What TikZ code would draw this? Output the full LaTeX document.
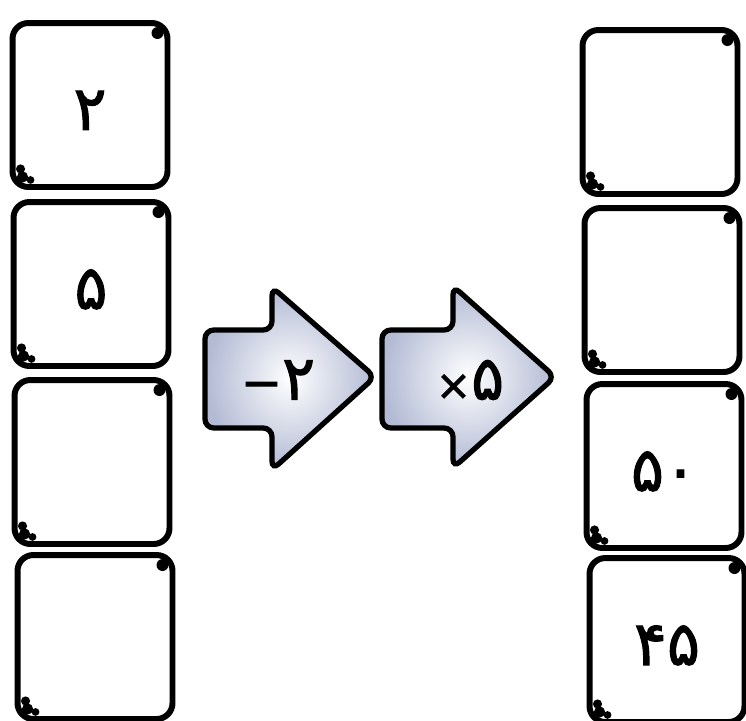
\documentclass[tikz,border=0pt]{standalone}
\usepackage{fontspec}
\usepackage{tikz}
\newfontfamily\farsifont{DejaVu Sans}[FakeBold=1.6]
\definecolor{arrowblue}{RGB}{178,186,212}

\begin{document}
\begin{tikzpicture}[x=0.02cm,y=-0.02cm,
    cell/.style={draw,line width=3.4pt,rounded corners=9pt,minimum width=3.1cm,minimum height=3.28cm,inner sep=0pt,
        font=\farsifont\fontsize{35}{37}\selectfont,text height=1cm,text depth=0pt},
    opnum/.style={font=\farsifont\fontsize{35}{37}\selectfont,inner sep=0pt},
    oparrow/.style={draw,line width=3pt,rounded corners=5pt,inner color=white,outer color=arrowblue}]

    \useasboundingbox (0,0) rectangle (746,720);

    %left column
    \node[cell] (l1) at (90,105) {۲};
    \node[cell] (l2) at (91,284) {۵};
    \node[cell] (l3) at (92,462) {};
    \node[cell] (l4) at (95,637) {};

    %right column
    \node[cell] (r1) at (660,112) {};
    \node[cell] (r2) at (662,290) {};
    \node[cell] (r3) at (664,466) {۵۰};
    \node[cell] (r4) at (667,640) {۴۵};

    %corner spots
    \foreach \b in {l1,l2,l3,l4,r1,r2,r3,r4}{
        \fill ([shift={(-13,13)}]\b.north east) circle (3.4pt);
        \fill ([shift={(11,-21)}]\b.south west) circle (2.6pt);
        \fill ([shift={(13,-13)}]\b.south west) circle (3.2pt);
        \fill ([shift={(21,-10)}]\b.south west) circle (2.2pt);
    }

    %arrows
    \shade[oparrow] (205,330) -- (272,330) -- (272,287) -- (375,377) -- (272,470) -- (272,428) -- (205,428) -- cycle;
    \node[opnum] (sub) at (278,380) {{\fontsize{28}{30}\selectfont−}۲};

    \shade[oparrow] (382,330) -- (453,330) -- (453,286) -- (555,377) -- (453,468) -- (453,428) -- (382,428) -- cycle;
    \node[opnum] (mul) at (470,380) {{\fontsize{24}{26}\selectfont×}۵};

\end{tikzpicture}
\end{document}
